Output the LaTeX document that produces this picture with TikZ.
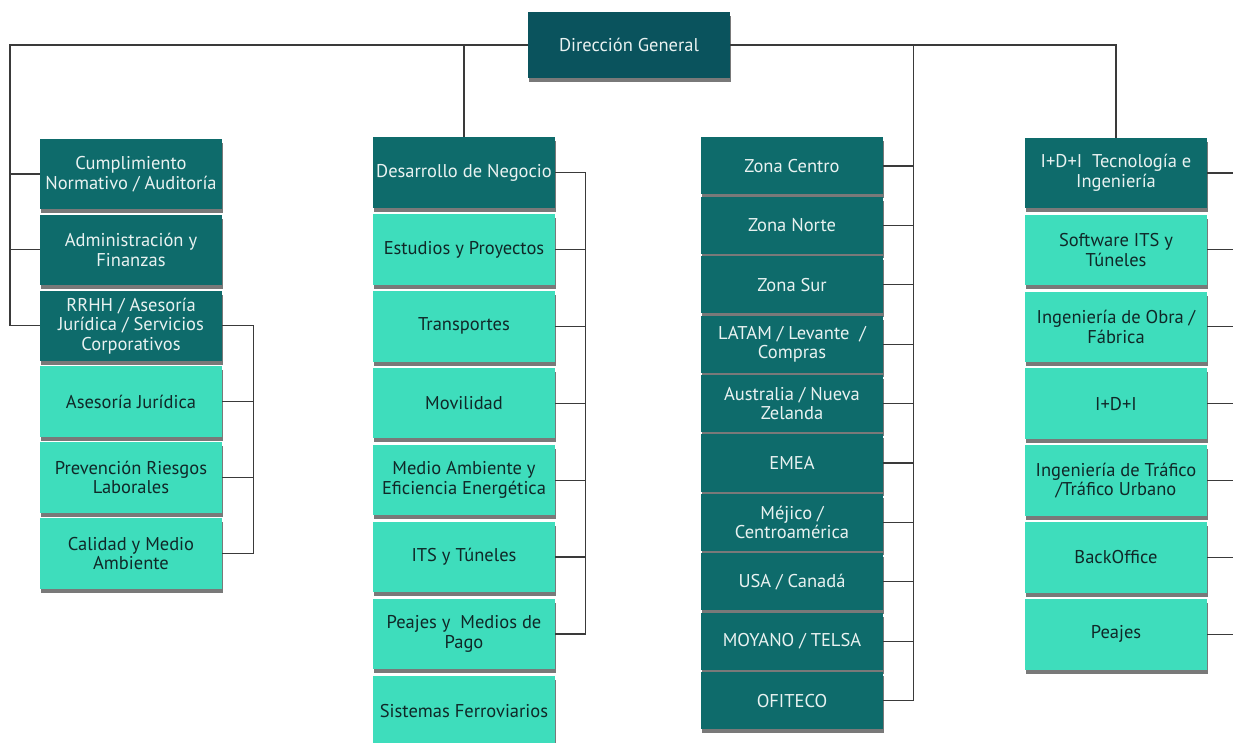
\documentclass[tikz,border=0pt]{standalone}
\usepackage{fontspec}
\setmainfont{PT Sans}
\usetikzlibrary{positioning,shadows}
\definecolor{petrol}{HTML}{0A535D}
\definecolor{deepteal}{HTML}{0E6B6B}
\definecolor{aqua}{HTML}{3EDDBC}
\definecolor{ink}{HTML}{102828}
\definecolor{paper}{HTML}{E9F2F1}
\definecolor{wire}{HTML}{3A3A3A}
\tikzset{unit/.style={rectangle,minimum width=182pt,inner sep=1pt,align=center,font=\fontsize{18.5}{19.5}\selectfont,drop shadow={shadow xshift=0.5pt,shadow yshift=-4pt,fill=black!75,opacity=.7}},
chief/.style={unit,fill=petrol,text=paper,minimum width=202pt,minimum height=66pt},
head/.style={unit,fill=deepteal,text=paper,minimum height=70.5pt},
sub/.style={unit,fill=aqua,text=ink,minimum height=70.5pt},
zone/.style={unit,fill=deepteal,text=paper,minimum height=57pt},
conn/.style={draw=wire,line width=1.2pt}}

\begin{document}
\begin{tikzpicture}[x=1pt,y=1pt,node distance=6pt]
\useasboundingbox (0,0) rectangle (1233,742);
\node[chief] (dg) at (629,697) {Dirección General};
\node[head] (cum) at (131,568) {Cumplimiento\\Normativo / Auditoría};
\node[head,below=5pt of cum] (adm) {Administración y\\Finanzas};
\node[head,below=5pt of adm] (rrhh) {RRHH / Asesoría\\Jurídica / Servicios\\Corporativos};
\node[sub,below=5pt of rrhh] (aj) {Asesoría Jurídica};
\node[sub,below=5pt of aj] (prl) {Prevención Riesgos\\Laborales};
\node[sub,below=5pt of prl] (cal) {Calidad y Medio\\Ambiente};
\node[head] (des) at (464,569.5) {Desarrollo de Negocio};
\node[sub,below=of des] (est) {Estudios y Proyectos};
\node[sub,below=of est] (tra) {Transportes};
\node[sub,below=of tra] (mov) {Movilidad};
\node[sub,below=of mov] (mae) {Medio Ambiente y\\Eficiencia Energética};
\node[sub,below=of mae] (its) {ITS y Túneles};
\node[sub,below=of its] (pmp) {Peajes y\ \ Medios de\\Pago};
\node[sub,below=of pmp] (sfe) {Sistemas Ferroviarios};
\node[zone] (zc) at (792,576) {Zona Centro};
\node[zone,below=2pt of zc] (zn) {Zona Norte};
\node[zone,below=2pt of zn] (zs) {Zona Sur};
\node[zone,below=2pt of zs] (lat) {LATAM / Levante\ \ /\\Compras};
\node[zone,below=2pt of lat] (aus) {Australia / Nueva\\Zelanda};
\node[zone,below=2pt of aus] (eme) {EMEA};
\node[zone,below=2pt of eme] (mej) {Méjico /\\Centroamérica};
\node[zone,below=2pt of mej] (usa) {USA / Canadá};
\node[zone,below=2pt of usa] (moy) {MOYANO / TELSA};
\node[zone,below=2pt of moy] (ofi) {OFITECO};
\node[head] (idi) at (1116,569) {I+D+I\ \ Tecnología e\\Ingeniería};
\node[sub,below=of idi] (sw) {Software ITS y\\Túneles};
\node[sub,below=of sw] (obr) {Ingeniería de Obra /\\Fábrica};
\node[sub,below=of obr] (idx) {I+D+I};
\node[sub,below=of idx] (trf) {Ingeniería de Tráfico\\/Tráfico Urbano};
\node[sub,below=of trf] (bo) {BackOffice};
\node[sub,below=of bo] (pj) {Peajes};
\coordinate (lbus) at (10,0);
\coordinate (rbus) at ([xshift=31pt]rrhh.east);
\coordinate (dbus) at ([xshift=30pt]des.east);
\coordinate (zbus) at ([xshift=30pt]zc.east);
\coordinate (redge) at (1233,0);
\draw[conn] (dg.west) -- (dg.west -| lbus) |- (rrhh.west);
\draw[conn] (cum.west) -- (cum.west -| lbus);\draw[conn] (adm.west) -- (adm.west -| lbus);
\draw[conn] (des.north) -- (des.north |- dg.west);
\draw[conn] (dg.east) -| (idi.north);
\draw[conn] (dg.east -| zbus) -- (zbus |- ofi.east);
\foreach \n in {zc,zn,zs,lat,aus,eme,mej,usa,moy,ofi} \draw[conn] (\n.east) -- (\n.east -| zbus);
\draw[conn] (rrhh.east) -- (rbus) |- (cal.east);
\foreach \n in {aj,prl} \draw[conn] (\n.east) -- (\n.east -| rbus);
\draw[conn] (des.east) -- (dbus) |- (pmp.east);
\foreach \n in {est,tra,mov,mae,its} \draw[conn] (\n.east) -- (\n.east -| dbus);
\foreach \n in {idi,sw,obr,idx,trf,bo,pj} \draw[conn] (\n.east) -- (\n.east -| redge);
\end{tikzpicture}
\end{document}
